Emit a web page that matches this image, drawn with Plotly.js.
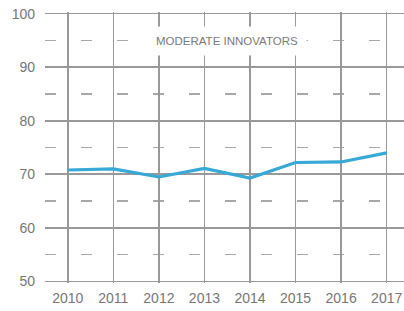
<!DOCTYPE html>
<html>
<head>
<meta charset="utf-8">
<script src="https://cdn.plot.ly/plotly-3.0.1.min.js"></script>
<style>html,body{margin:0;padding:0;background:#fff;}#chart{width:404px;height:311px;}</style>
</head>
<body>
<div id="chart"></div>
<script>
var years = [2010, 2011, 2012, 2013, 2014, 2015, 2016, 2017];
var scores = [70.8, 71.0, 69.5, 71.1, 69.3, 72.2, 72.3, 74.0];
var yTicks = [50, 60, 70, 80, 90, 100];
var groupLabel = "MODERATE INNOVATORS";

var grid = '#999999';
var txt = '#767676';

Plotly.newPlot('chart', [{
  x: years,
  y: scores,
  type: 'scatter',
  mode: 'lines',
  line: {color: '#38a9d6', width: 3.2},
  hoverinfo: 'skip'
}], {
  width: 404,
  height: 311,
  margin: {l: 45, r: 0, t: 12, b: 28, pad: 0},
  paper_bgcolor: '#fff',
  plot_bgcolor: '#fff',
  showlegend: false,
  font: {family: 'Liberation Sans, Arial, sans-serif', color: txt},
  xaxis: {
    range: [2009.5, 2017.38],
    tickvals: years,
    ticktext: years.map(String),
    showgrid: true,
    gridcolor: grid,
    gridwidth: 1.6,
    zeroline: false,
    showline: false,
    ticks: '',
    tickfont: {size: 14, color: txt},
    ticklabelstandoff: 5
  },
  yaxis: {
    range: [49.7, 100.3],
    tickvals: yTicks,
    showgrid: true,
    gridcolor: grid,
    gridwidth: 1.6,
    zeroline: false,
    showline: false,
    ticks: '',
    tickfont: {size: 14, color: txt},
    ticklabelstandoff: 9,
    minor: {dtick: 5, tick0: 50, showgrid: true, gridcolor: '#a8a8a8', gridwidth: 1.6, griddash: '11px,25px'}
  },
  annotations: [{
    x: 2013.5, y: 94.8, xref: 'x', yref: 'y',
    text: groupLabel,
    showarrow: false,
    bgcolor: '#fff',
    borderpad: 8,
    font: {family: 'Liberation Sans, sans-serif', size: 11.5, color: '#7a7a7a'}
  }]
}, {displayModeBar: false, staticPlot: true});
</script>
</body>
</html>
